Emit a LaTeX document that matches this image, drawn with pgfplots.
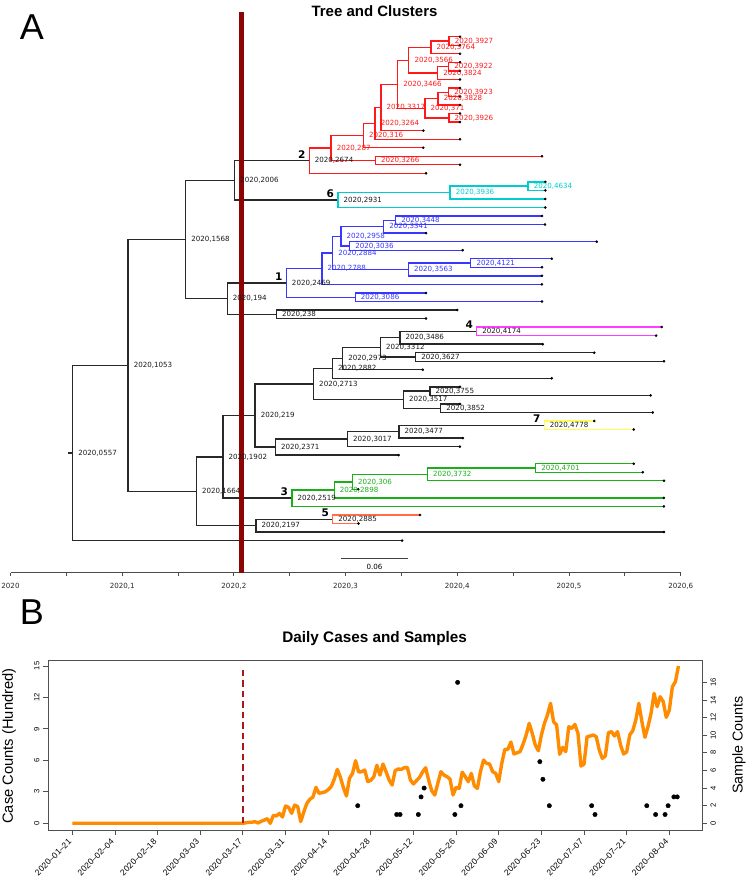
\documentclass[border=0pt]{standalone}
\usepackage{fontspec}
\setmainfont{Liberation Sans}
\newfontfamily\dv{DejaVu Sans}
\usepackage{pgfplots}
\pgfplotsset{compat=1.18}
\definecolor{cred}{RGB}{255,25,25}
\definecolor{ccyan}{RGB}{0,205,210}
\definecolor{cblue}{RGB}{55,55,255}
\definecolor{cmag}{RGB}{255,60,255}
\definecolor{cyel}{RGB}{255,255,80}
\definecolor{cgreen}{RGB}{25,175,25}
\definecolor{ccoral}{RGB}{255,110,70}
\definecolor{treeblk}{RGB}{40,40,40}
\definecolor{vline}{RGB}{140,5,5}
\definecolor{dline}{RGB}{170,25,25}
\definecolor{corange}{RGB}{255,140,0}
\definecolor{boxgray}{RGB}{80,80,80}
\pgfplotsset{
  lab/.style={only marks, mark=*, mark size=0pt, mark options={draw=none,fill=none},
    nodes near coords, point meta=explicit symbolic,
    nodes near coords style={anchor=west, xshift=5.5pt, inner sep=0pt,
      font=\dv\fontsize{7.1}{8}\selectfont, text=#1}},
}
\begin{document}
\begin{tikzpicture}[x=1pt,y=1pt]
\path[use as bounding box] (0,0) rectangle (749,-879);

% ---------------- Panel A: tree ----------------
\begin{axis}[
  at={(10.5pt,-572.7pt)}, anchor=south west, scale only axis,
  width=670.2pt, height=552.7pt,
  xmin=0, xmax=0.6, ymin=-63.763, ymax=0.9555,
  clip=false, axis y line=none, axis x line*=bottom,
  x axis line style={-, draw=black!70, line width=1.1pt},
  xtick={0,0.1,0.2,0.3,0.4,0.5,0.6},
  xticklabels={2020,{2020,1},{2020,2},{2020,3},{2020,4},{2020,5},{2020,6}},
  minor xtick={0.05,0.15,0.25,0.35,0.45,0.55},
  tick align=outside, major tick length=3pt, minor tick length=3pt,
  tick style={black!70, line width=0.8pt},
  xticklabel shift=4pt,
  xticklabel style={font=\dv\fontsize{7.1}{8}\selectfont, text=black!85},
  unbounded coords=jump,
]
% black edges
\addplot[treeblk, line width=1.35pt] coordinates {
(0.0514,-49.7418) (0.0557,-49.7418) (nan,nan)
(0.1053,-39.4837) (0.0557,-39.4837) (0.0557,-60) (0.3506,-60) (nan,nan)
(0.1568,-24.7427) (0.1053,-24.7427) (0.1053,-54.2246) (0.1664,-54.2246) (nan,nan)
(0.2006,-17.8213) (0.1568,-17.8213) (0.1568,-31.6641) (0.194,-31.6641) (nan,nan)
(0.2674,-15.5176) (0.2006,-15.5176) (0.2006,-20.125) (0.2931,-20.125) (nan,nan)
(0.2469,-29.8281) (0.194,-29.8281) (0.194,-33.5) (0.238,-33.5) (nan,nan)
(0.4,-33) (0.238,-33) (0.238,-34) (0.372,-34) (nan,nan)
(0.1902,-50.1992) (0.1664,-50.1992) (0.1664,-58.25) (0.2197,-58.25) (nan,nan)
(0.219,-45.3672) (0.1902,-45.3672) (0.1902,-55.0313) (0.2519,-55.0313) (nan,nan)
(0.2713,-41.6719) (0.219,-41.6719) (0.219,-49.0625) (0.2371,-49.0625) (nan,nan)
(0.2882,-39.8438) (0.2713,-39.8438) (0.2713,-43.5) (0.3517,-43.5) (nan,nan)
(0.2973,-38.6875) (0.2882,-38.6875) (0.2882,-41) (0.4845,-41) (nan,nan)
(0.3312,-37.375) (0.2973,-37.375) (0.2973,-40) (0.369,-40) (nan,nan)
(0.3486,-36.25) (0.3312,-36.25) (0.3312,-38.5) (0.3627,-38.5) (nan,nan)
(0.4174,-35.5) (0.3486,-35.5) (0.3486,-37) (0.4765,-37) (nan,nan)
(0.5226,-38) (0.3627,-38) (0.3627,-39) (0.585,-39) (nan,nan)
(0.3755,-42.5) (0.3517,-42.5) (0.3517,-44.5) (0.3852,-44.5) (nan,nan)
(0.4024,-42) (0.3755,-42) (0.3755,-43) (0.573,-43) (nan,nan)
(0.4024,-44) (0.3852,-44) (0.3852,-45) (0.575,-45) (nan,nan)
(0.3017,-48.125) (0.2371,-48.125) (0.2371,-50) (0.3475,-50) (nan,nan)
(0.3477,-47.25) (0.3017,-47.25) (0.3017,-49) (0.4024,-49) (nan,nan)
(0.4778,-46.5) (0.3477,-46.5) (0.3477,-48) (0.405,-48) (nan,nan)
(0.2885,-57.5) (0.2197,-57.5) (0.2197,-59) (0.585,-59)
};
% red clade (2)
\addplot[cred, line width=1.35pt] coordinates {
(0.287,-14.0352) (0.2674,-14.0352) (0.2674,-17) (0.372,-17) (nan,nan)
(0.316,-12.5703) (0.287,-12.5703) (0.287,-15.5) (0.3266,-15.5) (nan,nan)
(0.3264,-11.1406) (0.316,-11.1406) (0.316,-14) (0.3696,-14) (nan,nan)
(0.3317,-9.2813) (0.3264,-9.2813) (0.3264,-13) (0.4024,-13) (nan,nan)
(0.3466,-6.5625) (0.3317,-6.5625) (0.3317,-12) (0.3696,-12) (nan,nan)
(0.3566,-3.75) (0.3466,-3.75) (0.3466,-9.375) (0.371,-9.375) (nan,nan)
(0.3764,-2.25) (0.3566,-2.25) (0.3566,-5.25) (0.3824,-5.25) (nan,nan)
(0.3927,-1.5) (0.3764,-1.5) (0.3764,-3) (0.4024,-3) (nan,nan)
(0.4024,-1) (0.3927,-1) (0.3927,-2) (0.4024,-2) (nan,nan)
(0.3922,-4.5) (0.3824,-4.5) (0.3824,-6) (0.4024,-6) (nan,nan)
(0.4024,-4) (0.3922,-4) (0.3922,-5) (0.4024,-5) (nan,nan)
(0.3828,-8.25) (0.371,-8.25) (0.371,-10.5) (0.3926,-10.5) (nan,nan)
(0.3923,-7.5) (0.3828,-7.5) (0.3828,-9) (0.4024,-9) (nan,nan)
(0.4024,-7) (0.3923,-7) (0.3923,-8) (0.4024,-8) (nan,nan)
(0.4024,-10) (0.3926,-10) (0.3926,-11) (0.4024,-11) (nan,nan)
(0.4758,-15) (0.3266,-15) (0.3266,-16) (0.4024,-16)
};
% cyan clade (6)
\addplot[ccyan, line width=1.35pt] coordinates {
(0.3936,-19.25) (0.2931,-19.25) (0.2931,-21) (0.4788,-21) (nan,nan)
(0.4634,-18.5) (0.3936,-18.5) (0.3936,-20) (0.4788,-20) (nan,nan)
(0.4788,-18) (0.4634,-18) (0.4634,-19) (0.4788,-19)
};
% blue clade (1)
\addplot[cblue, line width=1.35pt] coordinates {
(0.2788,-28.1563) (0.2469,-28.1563) (0.2469,-31.5) (0.3086,-31.5) (nan,nan)
(0.2884,-26.3125) (0.2788,-26.3125) (0.2788,-30) (0.4758,-30) (nan,nan)
(0.2958,-24.375) (0.2884,-24.375) (0.2884,-28.25) (0.3563,-28.25) (nan,nan)
(0.3341,-23.25) (0.2958,-23.25) (0.2958,-25.5) (0.3036,-25.5) (nan,nan)
(0.3448,-22.5) (0.3341,-22.5) (0.3341,-24) (0.372,-24) (nan,nan)
(0.4758,-22) (0.3448,-22) (0.3448,-23) (0.4785,-23) (nan,nan)
(0.5248,-25) (0.3036,-25) (0.3036,-26) (0.4048,-26) (nan,nan)
(0.4121,-27.5) (0.3563,-27.5) (0.3563,-29) (0.4758,-29) (nan,nan)
(0.4845,-27) (0.4121,-27) (0.4121,-28) (0.4758,-28) (nan,nan)
(0.372,-31) (0.3086,-31) (0.3086,-32) (0.4758,-32)
};
% magenta (4)
\addplot[cmag, line width=1.35pt] coordinates {
(0.583,-35) (0.4174,-35) (0.4174,-36) (0.578,-36)
};
% yellow (7)
\addplot[cyel, line width=1.35pt] coordinates {
(0.5226,-46) (0.4778,-46) (0.4778,-47) (0.558,-47)
};
% green (3)
\addplot[cgreen, line width=1.35pt] coordinates {
(0.2898,-54.0625) (0.2519,-54.0625) (0.2519,-56) (0.585,-56) (nan,nan)
(0.306,-53.125) (0.2898,-53.125) (0.2898,-55) (0.585,-55) (nan,nan)
(0.3732,-52.25) (0.306,-52.25) (0.306,-54) (0.3113,-54) (nan,nan)
(0.4701,-51.5) (0.3732,-51.5) (0.3732,-53) (0.585,-53) (nan,nan)
(0.558,-51) (0.4701,-51) (0.4701,-52) (0.566,-52)
};
% coral (5)
\addplot[ccoral, line width=1.35pt] coordinates {
(0.3666,-57) (0.2885,-57) (0.2885,-58) (0.3116,-58)
};
% tip dots
\addplot[only marks, mark=*, mark size=1.1pt, black] coordinates {
(0.4024,-1) (0.4024,-2) (0.4024,-3) (0.4024,-4) (0.4024,-5) (0.4024,-6)
(0.4024,-7) (0.4024,-8) (0.4024,-9) (0.4024,-10) (0.4024,-11) (0.3696,-12)
(0.4024,-13) (0.3696,-14) (0.4758,-15) (0.4024,-16) (0.372,-17)
(0.4788,-18) (0.4788,-19) (0.4788,-20) (0.4788,-21)
(0.4758,-22) (0.4785,-23) (0.372,-24) (0.5248,-25) (0.4048,-26) (0.4845,-27)
(0.4758,-28) (0.4758,-29) (0.4758,-30) (0.372,-31) (0.4758,-32)
(0.4,-33) (0.372,-34) (0.583,-35) (0.578,-36) (0.4765,-37) (0.5226,-38)
(0.585,-39) (0.369,-40) (0.4845,-41) (0.4024,-42) (0.573,-43) (0.4024,-44)
(0.575,-45) (0.5226,-46) (0.558,-47) (0.405,-48) (0.4024,-49) (0.3475,-50)
(0.558,-51) (0.566,-52) (0.585,-53) (0.3113,-54) (0.585,-55) (0.585,-56)
(0.3666,-57) (0.3116,-58) (0.585,-59) (0.3506,-60)
};
% node labels
\addplot[lab=black!90] table[meta=lab] {
x y lab
0.0557 -49.7418 2020,0557
0.1053 -39.4837 2020,1053
0.1568 -24.7427 2020,1568
0.2006 -17.8213 2020,2006
0.194 -31.6641 2020,194
0.238 -33.5 2020,238
0.1664 -54.2246 2020,1664
0.1902 -50.1992 2020,1902
0.219 -45.3672 2020,219
0.2713 -41.6719 2020,2713
0.2882 -39.8438 2020,2882
0.2973 -38.6875 2020,2973
0.3312 -37.375 2020,3312
0.3486 -36.25 2020,3486
0.3627 -38.5 2020,3627
0.3517 -43.5 2020,3517
0.3755 -42.5 2020,3755
0.3852 -44.5 2020,3852
0.2371 -49.0625 2020,2371
0.3017 -48.125 2020,3017
0.3477 -47.25 2020,3477
0.2197 -58.25 2020,2197
0.2674 -15.5176 2020,2674
0.2931 -20.125 2020,2931
0.2469 -29.8281 2020,2469
0.2519 -55.0313 2020,2519
0.2885 -57.5 2020,2885
0.4174 -35.5 2020,4174
0.4778 -46.5 2020,4778
};
\addplot[lab=cred] table[meta=lab] {
x y lab
0.287 -14.0352 2020,287
0.316 -12.5703 2020,316
0.3264 -11.1406 2020,3264
0.3317 -9.2813 2020,3317
0.3466 -6.5625 2020,3466
0.3566 -3.75 2020,3566
0.3764 -2.25 2020,3764
0.3927 -1.5 2020,3927
0.3824 -5.25 2020,3824
0.3922 -4.5 2020,3922
0.371 -9.375 2020,371
0.3828 -8.25 2020,3828
0.3923 -7.5 2020,3923
0.3926 -10.5 2020,3926
0.3266 -15.5 2020,3266
};
\addplot[lab=ccyan] table[meta=lab] {
x y lab
0.3936 -19.25 2020,3936
0.4634 -18.5 2020,4634
};
\addplot[lab=cblue] table[meta=lab] {
x y lab
0.2788 -28.1563 2020,2788
0.2884 -26.3125 2020,2884
0.2958 -24.375 2020,2958
0.3341 -23.25 2020,3341
0.3448 -22.5 2020,3448
0.3036 -25.5 2020,3036
0.3563 -28.25 2020,3563
0.4121 -27.5 2020,4121
0.3086 -31.5 2020,3086
};
\addplot[lab=cgreen] table[meta=lab] {
x y lab
0.2898 -54.0625 2020,2898
0.306 -53.125 2020,306
0.3732 -52.25 2020,3732
0.4701 -51.5 2020,4701
};
% cluster numbers
\addplot[only marks, mark=*, mark size=0pt, mark options={draw=none,fill=none},
  nodes near coords, point meta=explicit symbolic,
  nodes near coords style={anchor=center, xshift=-7.5pt, yshift=6.5pt, inner sep=0pt,
    font=\dv\bfseries\fontsize{10.5}{12}\selectfont, text=black}] table[meta=lab] {
x y lab
0.2469 -29.8281 1
0.2674 -15.5176 2
0.2519 -55.0313 3
0.4174 -35.5 4
0.2885 -57.5 5
0.2931 -20.125 6
0.4778 -46.5 7
};
% scale bar
\addplot[black!75, line width=1pt] coordinates {(0.2958,-62.08) (0.3558,-62.08)};
\addplot[only marks, mark=*, mark size=0pt, mark options={draw=none,fill=none},
  nodes near coords, point meta=explicit symbolic,
  nodes near coords style={anchor=center, inner sep=0pt,
    font=\dv\fontsize{7.1}{8}\selectfont, text=black}] table[meta=lab] {
x y lab
0.3258 -63.06 0.06
};
% red time line
\addplot[vline, line width=5pt] coordinates {(0.2068,1.892) (0.2068,-63.763)};
\end{axis}

\node[font=\bfseries\fontsize{15}{18}\selectfont] at (374.5,-11) {Tree and Clusters};
\node[font=\fontsize{36}{40}\selectfont] at (32,-27) {A};
\node[font=\fontsize{36}{40}\selectfont] at (32,-612) {B};
\node[font=\bfseries\fontsize{15.3}{18}\selectfont] at (374.7,-639) {Daily Cases and Samples};
\node[rotate=90, font=\fontsize{14.7}{17}\selectfont] at (9,-746) {Case Counts (Hundred)};
\node[rotate=90, font=\fontsize{14.3}{17}\selectfont] at (739,-745) {Sample Counts};

% ---------------- Panel B: cases ----------------
\begin{axis}[
  at={(48pt,-830pt)}, anchor=south west, scale only axis,
  width=654pt, height=170pt,
  xmin=-7.98, xmax=206.73, ymin=-0.64, ymax=15.57,
  axis line style={boxgray, line width=1pt},
  xtick={0,14,...,196},
  xticklabels={2020--01--21,2020--02--04,2020--02--18,2020--03--03,2020--03--17,2020--03--31,2020--04--14,2020--04--28,2020--05--12,2020--05--26,2020--06--09,2020--06--23,2020--07--07,2020--07--21,2020--08--04},
  ytick={0,3,6,9,12,15},
  xtick pos=left, ytick pos=left,
  tick align=outside, major tick length=5pt,
  tick style={boxgray, line width=0.9pt},
  xticklabel shift=3pt,
  yticklabel style={rotate=90, anchor=south, font=\fontsize{7.6}{9}\selectfont},
  xticklabel style={rotate=45, anchor=east, font=\fontsize{8.5}{10}\selectfont},
  /pgf/number format/assume math mode=true,
]
\addplot[corange, line width=3.4pt, line join=round] coordinates {
(0,0) (1,0) (2,0) (3,0) (4,0) (5,0) (6,0) (7,0) (8,0) (9,0) (10,0) (11,0) (12,0) (13,0)
(14,0) (15,0) (16,0) (17,0) (18,0) (19,0) (20,0) (21,0) (22,0) (23,0) (24,0) (25,0) (26,0) (27,0)
(28,0) (29,0) (30,0) (31,0) (32,0) (33,0) (34,0) (35,0) (36,0) (37,0) (38,0) (39,0) (40,0) (41,0)
(42,0) (43,0) (44,0) (45,0) (46,0) (47,0) (48,0) (49,0) (50,0) (51,0) (52,0) (53,0) (54,0) (55,0)
(56,0) (57,0.05) (58,0.1) (59,0.1) (60,0.16) (61,0.03) (62,0.19) (63,0.3) (64,0.44) (65,0)
(66,0.76) (67,0.7) (68,0.95) (69,0.6) (70,1.65) (71,1.52) (72,0.95) (73,1.74) (74,1.59) (75,0.16)
(76,1.08) (77,1.9) (78,2.29) (79,2.5) (80,3.43) (81,2.86) (82,2.92) (83,3.0) (84,3.2) (85,3.5)
(86,4.2) (87,5.14) (88,4.4) (89,3.4) (90,2.6) (91,4.29) (92,4.76) (93,5.97) (94,4.89) (95,4.92)
(96,5.08) (97,3.97) (98,4.1) (99,4.45) (100,5.53) (101,4.6) (102,5.65) (103,4.92) (104,4.13) (105,3.65)
(106,5.02) (107,5.18) (108,5.14) (109,5.3) (110,5.33) (111,4.13) (112,3.75) (113,4.07) (114,4.38) (115,4.9)
(116,5.3) (117,4.1) (118,3.1) (119,2.7) (120,3.81) (121,4.92) (122,4.6) (123,4.45) (124,4.22) (125,2.7)
(126,3.43) (127,3.33) (128,4.87) (129,4.45) (130,3.97) (131,4.76) (132,3.56) (133,3.33) (134,4.92) (135,6.03)
(136,5.72) (137,5.65) (138,4.92) (139,4.76) (140,3.97) (141,5.72) (142,7.05) (143,7.05) (144,7.75) (145,6.61)
(146,6.73) (147,6.83) (148,7.56) (149,8.42) (150,9.53) (151,8.58) (152,7.46) (153,6.92) (154,8.42) (155,9.53)
(156,10.33) (157,11.44) (158,9.69) (159,9.37) (160,6.58) (161,7.24) (162,6.83) (163,9.21) (164,9.05) (165,9.43)
(166,8.58) (167,5.46) (168,5.65) (169,8.26) (170,8.32) (171,8.42) (172,8.26) (173,6.99) (174,6.19) (175,6.42)
(176,8.64) (177,8.74) (178,8.32) (179,8.74) (180,7.47) (181,6.61) (182,6.8) (183,8.42) (184,8.83) (185,9.85)
(186,11.44) (187,9.69) (188,8.2) (189,9.21) (190,10.48) (191,12.39) (192,11.12) (193,12.07) (194,11.6) (195,10.1)
(196,10.8) (197,13.02) (198,13.5) (199,15.0)
};
\addplot[dline, line width=2.6pt, dash pattern=on 6.5pt off 4pt] coordinates {(56,0) (56,14.6)};
\end{axis}

\begin{axis}[
  at={(48pt,-830pt)}, anchor=south west, scale only axis,
  width=654pt, height=170pt,
  xmin=-7.98, xmax=206.73, ymin=-0.76, ymax=18.54,
  axis x line=none, axis y line*=right,
  axis line style={-, boxgray, line width=1pt},
  ytick={0,2,4,6,8,10,12,14,16},
  tick align=outside, major tick length=5pt,
  tick style={boxgray, line width=0.9pt},
  yticklabel style={rotate=90, anchor=north, font=\fontsize{7.6}{9}\selectfont},
  /pgf/number format/assume math mode=true,
]
\addplot[only marks, mark=*, mark size=2.2pt, black] coordinates {
(93.7,2) (106.5,1) (107.6,1) (113.6,1) (114.5,3) (115.5,4) (125.6,1) (126.5,16) (127.6,2)
(153.5,7) (154.5,5) (156.6,2) (170.5,2) (171.6,1) (188.6,2) (191.5,1) (194.6,1) (195.6,2)
(197.5,3) (198.6,3)
};
\end{axis}
\end{tikzpicture}
\end{document}
